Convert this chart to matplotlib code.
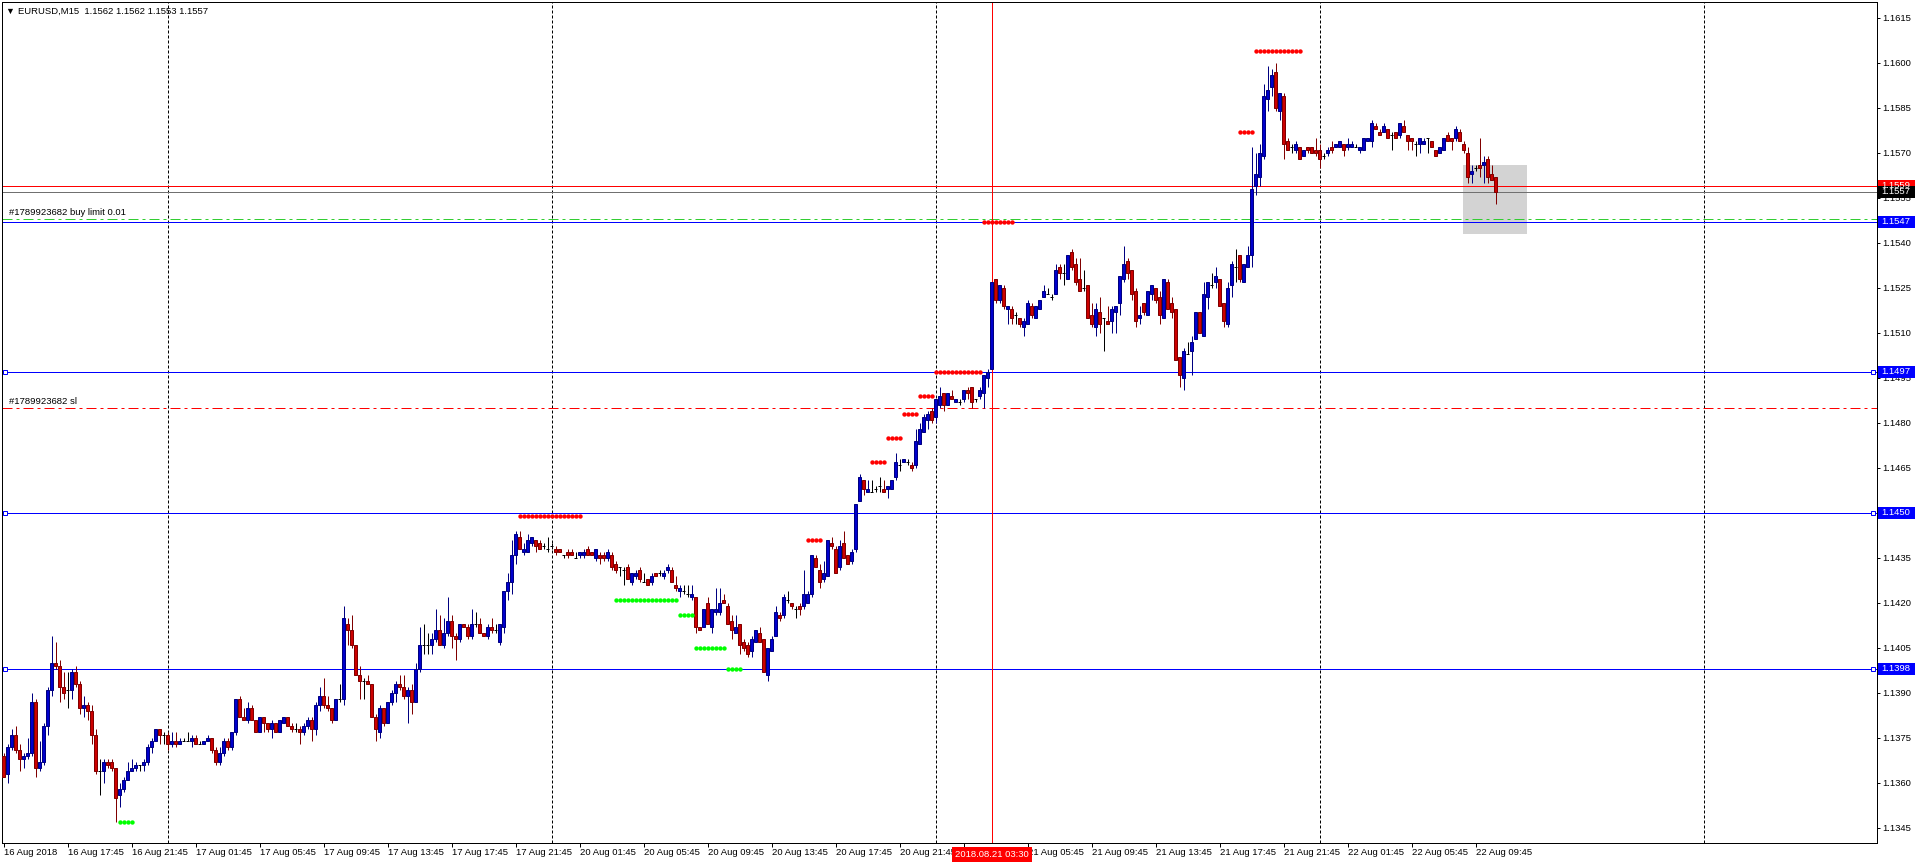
import numpy as np
import matplotlib
matplotlib.use("Agg")
import matplotlib.pyplot as plt
from matplotlib.patches import Rectangle
from matplotlib.transforms import blended_transform_factory

# EURUSD M15 bars, first bar = 16 Aug 2018 13:45
opens = [
    1.1369, 1.1363, 1.1372, 1.1376, 1.1371, 1.1368, 1.1369, 1.1370, 1.1387, 1.1365, 1.1367, 1.1379, 1.1391, 1.1400, 1.1399, 1.1392,
    1.1391, 1.1391, 1.1397, 1.1393, 1.1385, 1.1386, 1.1384, 1.1376, 1.1364, 1.1364, 1.1367, 1.1367, 1.1365, 1.1356, 1.1358, 1.1361,
    1.1364, 1.1365, 1.1366, 1.1366, 1.1367, 1.1372, 1.1374, 1.1378, 1.1376, 1.1376, 1.1373, 1.1374, 1.1373, 1.1374, 1.1374, 1.1374,
    1.1375, 1.1373, 1.1373, 1.1374, 1.1375, 1.1371, 1.1367, 1.1370, 1.1374, 1.1372, 1.1377, 1.1388, 1.1382, 1.1381, 1.1385, 1.1381,
    1.1377, 1.1382, 1.1380, 1.1378, 1.1380, 1.1377, 1.1380, 1.1382, 1.1379, 1.1378, 1.1378, 1.1377, 1.1379, 1.1381, 1.1378, 1.1386,
    1.1389, 1.1386, 1.1385, 1.1381, 1.1388, 1.1388, 1.1413, 1.1411, 1.1406, 1.1396, 1.1394, 1.1394, 1.1393, 1.1382, 1.1377, 1.1385,
    1.1380, 1.1387, 1.1390, 1.1393, 1.1392, 1.1389, 1.1391, 1.1387, 1.1398, 1.1406, 1.1406, 1.1406, 1.1408, 1.1411, 1.1406, 1.1410,
    1.1414, 1.1409, 1.1408, 1.1413, 1.1412, 1.1409, 1.1413, 1.1413, 1.1410, 1.1409, 1.1412, 1.1411, 1.1407, 1.1412, 1.1424, 1.1427,
    1.1436, 1.1442, 1.1437, 1.1437, 1.1440, 1.1441, 1.1440, 1.1439, 1.1438, 1.1439, 1.1438, 1.1438, 1.1436, 1.1437, 1.1437, 1.1435,
    1.1436, 1.1436, 1.1438, 1.1437, 1.1435, 1.1436, 1.1436, 1.1435, 1.1436, 1.1433, 1.1432, 1.1431, 1.1432, 1.1427, 1.1429, 1.1431,
    1.1427, 1.1428, 1.1427, 1.1430, 1.1430, 1.1429, 1.1431, 1.1431, 1.1426, 1.1424, 1.1424, 1.1423, 1.1422, 1.1422, 1.1412, 1.1412,
    1.1420, 1.1412, 1.1417, 1.1417, 1.1421, 1.1419, 1.1414, 1.1410, 1.1413, 1.1407, 1.1406, 1.1404, 1.1407, 1.1410, 1.1408, 1.1396,
    1.1404, 1.1409, 1.1416, 1.1416, 1.1421, 1.1420, 1.1418, 1.1419, 1.1419, 1.1420, 1.1423, 1.1435, 1.1431, 1.1428, 1.1429, 1.1440,
    1.1438, 1.1432, 1.1440, 1.1436, 1.1434, 1.1438, 1.1454, 1.1461, 1.1457, 1.1457, 1.1458, 1.1459, 1.1458, 1.1458, 1.1458, 1.1462,
    1.1466, 1.1467, 1.1467, 1.1466, 1.1466, 1.1473, 1.1477, 1.1481, 1.1484, 1.1482, 1.1486, 1.1490, 1.1486, 1.1489, 1.1487, 1.1487,
    1.1488, 1.1491, 1.1492, 1.1488, 1.1489, 1.1490, 1.1495, 1.1498, 1.1528, 1.1521, 1.1525, 1.1518, 1.1518, 1.1516, 1.1515, 1.1512,
    1.1513, 1.1519, 1.1515, 1.1518, 1.1522, 1.1523, 1.1522, 1.1523, 1.1532, 1.1530, 1.1528, 1.1537, 1.1533, 1.1528, 1.1525, 1.1526,
    1.1516, 1.1512, 1.1517, 1.1515, 1.1514, 1.1514, 1.1517, 1.1520, 1.1528, 1.1534, 1.1531, 1.1524, 1.1515, 1.1520, 1.1516, 1.1523,
    1.1525, 1.1522, 1.1515, 1.1527, 1.1520, 1.1518, 1.1502, 1.1495, 1.1503, 1.1504, 1.1508, 1.1517, 1.1509, 1.1522, 1.1526, 1.1527,
    1.1528, 1.1520, 1.1513, 1.1526, 1.1532, 1.1536, 1.1527, 1.1532, 1.1536, 1.1559, 1.1562, 1.1569, 1.1588, 1.1592, 1.1597, 1.1584,
    1.1589, 1.1574, 1.1572, 1.1571, 1.1572, 1.1569, 1.1572, 1.1572, 1.1571, 1.1571, 1.1569, 1.1570, 1.1572, 1.1572, 1.1572, 1.1573,
    1.1572, 1.1572, 1.1572, 1.1571, 1.1571, 1.1574, 1.1574, 1.1579, 1.1577, 1.1577, 1.1578, 1.1576, 1.1577, 1.1576, 1.1579, 1.1576,
    1.1575, 1.1573, 1.1573, 1.1573, 1.1575, 1.1574, 1.1571, 1.1570, 1.1571, 1.1576, 1.1575, 1.1575, 1.1577, 1.1573, 1.1570, 1.1563,
    1.1565, 1.1566, 1.1566, 1.1568, 1.1563, 1.1562,
]
highs = [
    1.1370, 1.1373, 1.1378, 1.1379, 1.1373, 1.1370, 1.1375, 1.1390, 1.1388, 1.1374, 1.1380, 1.1392, 1.1409, 1.1407, 1.1401, 1.1397,
    1.1397, 1.1398, 1.1399, 1.1394, 1.1389, 1.1387, 1.1386, 1.1378, 1.1368, 1.1368, 1.1368, 1.1368, 1.1365, 1.1360, 1.1362, 1.1367,
    1.1368, 1.1367, 1.1366, 1.1368, 1.1373, 1.1375, 1.1378, 1.1378, 1.1377, 1.1377, 1.1377, 1.1377, 1.1375, 1.1375, 1.1377, 1.1376,
    1.1376, 1.1374, 1.1374, 1.1376, 1.1375, 1.1372, 1.1372, 1.1375, 1.1375, 1.1377, 1.1388, 1.1389, 1.1385, 1.1387, 1.1386, 1.1381,
    1.1382, 1.1382, 1.1380, 1.1381, 1.1380, 1.1381, 1.1382, 1.1382, 1.1380, 1.1380, 1.1379, 1.1380, 1.1382, 1.1382, 1.1387, 1.1392,
    1.1395, 1.1389, 1.1385, 1.1388, 1.1393, 1.1419, 1.1415, 1.1416, 1.1406, 1.1399, 1.1395, 1.1396, 1.1393, 1.1383, 1.1386, 1.1385,
    1.1387, 1.1391, 1.1394, 1.1396, 1.1396, 1.1392, 1.1393, 1.1400, 1.1412, 1.1413, 1.1410, 1.1410, 1.1418, 1.1416, 1.1415, 1.1422,
    1.1416, 1.1410, 1.1413, 1.1413, 1.1413, 1.1418, 1.1417, 1.1415, 1.1410, 1.1413, 1.1415, 1.1413, 1.1413, 1.1424, 1.1430, 1.1441,
    1.1444, 1.1444, 1.1440, 1.1443, 1.1442, 1.1441, 1.1441, 1.1440, 1.1442, 1.1440, 1.1439, 1.1438, 1.1436, 1.1438, 1.1438, 1.1437,
    1.1437, 1.1438, 1.1439, 1.1437, 1.1438, 1.1437, 1.1437, 1.1438, 1.1437, 1.1434, 1.1432, 1.1432, 1.1433, 1.1430, 1.1431, 1.1432,
    1.1430, 1.1428, 1.1430, 1.1430, 1.1431, 1.1431, 1.1433, 1.1432, 1.1429, 1.1426, 1.1426, 1.1426, 1.1426, 1.1422, 1.1412, 1.1418,
    1.1422, 1.1418, 1.1425, 1.1425, 1.1423, 1.1420, 1.1416, 1.1416, 1.1413, 1.1408, 1.1407, 1.1409, 1.1411, 1.1412, 1.1408, 1.1405,
    1.1409, 1.1419, 1.1417, 1.1423, 1.1424, 1.1420, 1.1419, 1.1420, 1.1431, 1.1424, 1.1436, 1.1436, 1.1433, 1.1434, 1.1441, 1.1442,
    1.1439, 1.1441, 1.1444, 1.1436, 1.1438, 1.1453, 1.1463, 1.1461, 1.1461, 1.1461, 1.1459, 1.1462, 1.1461, 1.1459, 1.1461, 1.1470,
    1.1468, 1.1468, 1.1468, 1.1467, 1.1478, 1.1480, 1.1483, 1.1484, 1.1485, 1.1488, 1.1492, 1.1490, 1.1490, 1.1491, 1.1488, 1.1488,
    1.1491, 1.1492, 1.1492, 1.1488, 1.1492, 1.1496, 1.1498, 1.1527, 1.1528, 1.1526, 1.1526, 1.1519, 1.1519, 1.1517, 1.1515, 1.1515,
    1.1521, 1.1520, 1.1519, 1.1521, 1.1526, 1.1525, 1.1523, 1.1533, 1.1533, 1.1533, 1.1536, 1.1538, 1.1535, 1.1535, 1.1531, 1.1526,
    1.1520, 1.1520, 1.1522, 1.1515, 1.1519, 1.1519, 1.1519, 1.1529, 1.1539, 1.1535, 1.1531, 1.1525, 1.1519, 1.1520, 1.1524, 1.1526,
    1.1525, 1.1524, 1.1528, 1.1528, 1.1522, 1.1518, 1.1502, 1.1505, 1.1507, 1.1509, 1.1517, 1.1517, 1.1527, 1.1527, 1.1530, 1.1532,
    1.1528, 1.1520, 1.1527, 1.1534, 1.1538, 1.1536, 1.1533, 1.1539, 1.1572, 1.1570, 1.1573, 1.1593, 1.1599, 1.1598, 1.1600, 1.1590,
    1.1590, 1.1575, 1.1573, 1.1574, 1.1572, 1.1571, 1.1572, 1.1572, 1.1575, 1.1573, 1.1570, 1.1572, 1.1574, 1.1573, 1.1574, 1.1573,
    1.1575, 1.1574, 1.1573, 1.1572, 1.1575, 1.1575, 1.1581, 1.1580, 1.1578, 1.1580, 1.1578, 1.1577, 1.1577, 1.1580, 1.1581, 1.1576,
    1.1575, 1.1574, 1.1575, 1.1575, 1.1575, 1.1574, 1.1571, 1.1572, 1.1575, 1.1577, 1.1575, 1.1579, 1.1578, 1.1574, 1.1572, 1.1566,
    1.1566, 1.1575, 1.1569, 1.1569, 1.1566, 1.1562,
]
lows = [
    1.1362, 1.1360, 1.1371, 1.1370, 1.1364, 1.1365, 1.1368, 1.1369, 1.1362, 1.1364, 1.1366, 1.1376, 1.1389, 1.1398, 1.1387, 1.1388,
    1.1385, 1.1388, 1.1392, 1.1383, 1.1382, 1.1381, 1.1373, 1.1363, 1.1356, 1.1360, 1.1365, 1.1364, 1.1347, 1.1352, 1.1357, 1.1361,
    1.1364, 1.1364, 1.1364, 1.1364, 1.1366, 1.1370, 1.1374, 1.1373, 1.1373, 1.1371, 1.1372, 1.1372, 1.1373, 1.1374, 1.1374, 1.1372,
    1.1373, 1.1373, 1.1373, 1.1374, 1.1370, 1.1366, 1.1366, 1.1369, 1.1371, 1.1371, 1.1376, 1.1382, 1.1381, 1.1380, 1.1381, 1.1377,
    1.1377, 1.1377, 1.1377, 1.1375, 1.1377, 1.1377, 1.1380, 1.1379, 1.1377, 1.1377, 1.1373, 1.1376, 1.1378, 1.1374, 1.1376, 1.1384,
    1.1385, 1.1384, 1.1380, 1.1381, 1.1387, 1.1386, 1.1406, 1.1405, 1.1396, 1.1388, 1.1388, 1.1393, 1.1382, 1.1374, 1.1375, 1.1379,
    1.1380, 1.1386, 1.1387, 1.1391, 1.1388, 1.1380, 1.1383, 1.1387, 1.1397, 1.1403, 1.1403, 1.1403, 1.1407, 1.1406, 1.1405, 1.1409,
    1.1405, 1.1401, 1.1407, 1.1412, 1.1408, 1.1408, 1.1412, 1.1410, 1.1409, 1.1408, 1.1410, 1.1410, 1.1406, 1.1410, 1.1421, 1.1423,
    1.1433, 1.1438, 1.1436, 1.1437, 1.1439, 1.1437, 1.1438, 1.1438, 1.1437, 1.1438, 1.1436, 1.1437, 1.1435, 1.1435, 1.1436, 1.1435,
    1.1435, 1.1435, 1.1436, 1.1436, 1.1434, 1.1433, 1.1434, 1.1434, 1.1431, 1.1430, 1.1429, 1.1426, 1.1428, 1.1426, 1.1428, 1.1427,
    1.1427, 1.1426, 1.1426, 1.1429, 1.1429, 1.1428, 1.1430, 1.1427, 1.1424, 1.1422, 1.1423, 1.1422, 1.1421, 1.1410, 1.1411, 1.1412,
    1.1413, 1.1410, 1.1416, 1.1416, 1.1420, 1.1413, 1.1408, 1.1410, 1.1403, 1.1404, 1.1402, 1.1402, 1.1407, 1.1407, 1.1397, 1.1394,
    1.1404, 1.1409, 1.1414, 1.1415, 1.1420, 1.1418, 1.1415, 1.1416, 1.1418, 1.1420, 1.1422, 1.1432, 1.1425, 1.1427, 1.1429, 1.1438,
    1.1430, 1.1431, 1.1435, 1.1433, 1.1433, 1.1437, 1.1454, 1.1456, 1.1457, 1.1457, 1.1457, 1.1457, 1.1457, 1.1455, 1.1458, 1.1461,
    1.1464, 1.1467, 1.1466, 1.1464, 1.1465, 1.1473, 1.1477, 1.1478, 1.1480, 1.1480, 1.1485, 1.1484, 1.1486, 1.1488, 1.1487, 1.1486,
    1.1487, 1.1488, 1.1485, 1.1487, 1.1488, 1.1485, 1.1492, 1.1498, 1.1520, 1.1520, 1.1518, 1.1513, 1.1513, 1.1513, 1.1512, 1.1509,
    1.1513, 1.1515, 1.1515, 1.1518, 1.1522, 1.1523, 1.1521, 1.1523, 1.1528, 1.1526, 1.1528, 1.1531, 1.1526, 1.1524, 1.1524, 1.1515,
    1.1512, 1.1509, 1.1510, 1.1504, 1.1513, 1.1510, 1.1510, 1.1516, 1.1527, 1.1528, 1.1521, 1.1512, 1.1513, 1.1516, 1.1516, 1.1521,
    1.1520, 1.1513, 1.1515, 1.1518, 1.1515, 1.1501, 1.1492, 1.1491, 1.1503, 1.1496, 1.1508, 1.1510, 1.1509, 1.1518, 1.1525, 1.1525,
    1.1519, 1.1512, 1.1512, 1.1522, 1.1527, 1.1527, 1.1527, 1.1532, 1.1532, 1.1556, 1.1559, 1.1568, 1.1584, 1.1589, 1.1584, 1.1581,
    1.1568, 1.1571, 1.1570, 1.1570, 1.1568, 1.1569, 1.1570, 1.1570, 1.1569, 1.1565, 1.1568, 1.1569, 1.1570, 1.1572, 1.1572, 1.1569,
    1.1571, 1.1572, 1.1572, 1.1570, 1.1571, 1.1574, 1.1572, 1.1578, 1.1576, 1.1577, 1.1575, 1.1571, 1.1575, 1.1575, 1.1577, 1.1571,
    1.1571, 1.1569, 1.1570, 1.1573, 1.1570, 1.1572, 1.1569, 1.1570, 1.1571, 1.1574, 1.1571, 1.1574, 1.1574, 1.1570, 1.1560, 1.1560,
    1.1564, 1.1562, 1.1560, 1.1560, 1.1561, 1.1553,
]
closes = [
    1.1362, 1.1372, 1.1376, 1.1371, 1.1368, 1.1369, 1.1370, 1.1387, 1.1365, 1.1367, 1.1379, 1.1391, 1.1400, 1.1399, 1.1392, 1.1390,
    1.1391, 1.1397, 1.1393, 1.1385, 1.1386, 1.1384, 1.1376, 1.1364, 1.1364, 1.1367, 1.1366, 1.1365, 1.1355, 1.1358, 1.1361, 1.1364,
    1.1365, 1.1366, 1.1366, 1.1367, 1.1372, 1.1374, 1.1378, 1.1376, 1.1376, 1.1373, 1.1374, 1.1373, 1.1374, 1.1374, 1.1374, 1.1375,
    1.1373, 1.1373, 1.1374, 1.1375, 1.1371, 1.1367, 1.1370, 1.1374, 1.1372, 1.1377, 1.1388, 1.1382, 1.1381, 1.1385, 1.1381, 1.1377,
    1.1382, 1.1380, 1.1378, 1.1380, 1.1377, 1.1381, 1.1382, 1.1379, 1.1378, 1.1378, 1.1377, 1.1379, 1.1381, 1.1378, 1.1386, 1.1389,
    1.1386, 1.1385, 1.1381, 1.1388, 1.1388, 1.1415, 1.1411, 1.1406, 1.1396, 1.1394, 1.1394, 1.1393, 1.1382, 1.1378, 1.1385, 1.1380,
    1.1387, 1.1390, 1.1393, 1.1392, 1.1389, 1.1391, 1.1387, 1.1398, 1.1406, 1.1406, 1.1406, 1.1408, 1.1411, 1.1406, 1.1410, 1.1414,
    1.1409, 1.1408, 1.1413, 1.1412, 1.1409, 1.1413, 1.1413, 1.1410, 1.1409, 1.1412, 1.1411, 1.1411, 1.1413, 1.1424, 1.1427, 1.1436,
    1.1443, 1.1438, 1.1438, 1.1441, 1.1442, 1.1439, 1.1438, 1.1439, 1.1438, 1.1439, 1.1437, 1.1437, 1.1436, 1.1436, 1.1436, 1.1435,
    1.1437, 1.1437, 1.1436, 1.1436, 1.1438, 1.1435, 1.1435, 1.1437, 1.1432, 1.1431, 1.1432, 1.1431, 1.1428, 1.1430, 1.1430, 1.1428,
    1.1427, 1.1426, 1.1429, 1.1429, 1.1430, 1.1430, 1.1432, 1.1427, 1.1425, 1.1425, 1.1424, 1.1423, 1.1423, 1.1412, 1.1411, 1.1418,
    1.1413, 1.1418, 1.1418, 1.1420, 1.1420, 1.1413, 1.1411, 1.1412, 1.1406, 1.1405, 1.1403, 1.1408, 1.1411, 1.1407, 1.1397, 1.1405,
    1.1408, 1.1417, 1.1415, 1.1422, 1.1421, 1.1419, 1.1418, 1.1418, 1.1423, 1.1423, 1.1436, 1.1432, 1.1427, 1.1430, 1.1441, 1.1439,
    1.1430, 1.1439, 1.1435, 1.1433, 1.1437, 1.1453, 1.1462, 1.1458, 1.1458, 1.1457, 1.1458, 1.1459, 1.1457, 1.1459, 1.1461, 1.1467,
    1.1466, 1.1468, 1.1467, 1.1465, 1.1474, 1.1478, 1.1482, 1.1483, 1.1481, 1.1488, 1.1489, 1.1486, 1.1490, 1.1488, 1.1488, 1.1487,
    1.1491, 1.1490, 1.1487, 1.1488, 1.1491, 1.1496, 1.1497, 1.1527, 1.1521, 1.1526, 1.1519, 1.1519, 1.1515, 1.1516, 1.1513, 1.1514,
    1.1520, 1.1516, 1.1519, 1.1521, 1.1524, 1.1523, 1.1522, 1.1531, 1.1530, 1.1530, 1.1536, 1.1532, 1.1527, 1.1524, 1.1525, 1.1515,
    1.1513, 1.1518, 1.1513, 1.1515, 1.1513, 1.1518, 1.1519, 1.1529, 1.1533, 1.1530, 1.1523, 1.1514, 1.1516, 1.1517, 1.1524, 1.1526,
    1.1521, 1.1516, 1.1528, 1.1518, 1.1517, 1.1501, 1.1496, 1.1504, 1.1503, 1.1507, 1.1517, 1.1510, 1.1523, 1.1527, 1.1526, 1.1529,
    1.1519, 1.1514, 1.1525, 1.1533, 1.1532, 1.1528, 1.1533, 1.1536, 1.1558, 1.1563, 1.1570, 1.1589, 1.1591, 1.1596, 1.1585, 1.1590,
    1.1573, 1.1571, 1.1572, 1.1573, 1.1568, 1.1571, 1.1571, 1.1570, 1.1570, 1.1568, 1.1569, 1.1571, 1.1571, 1.1573, 1.1574, 1.1571,
    1.1573, 1.1573, 1.1572, 1.1572, 1.1575, 1.1575, 1.1580, 1.1578, 1.1576, 1.1579, 1.1575, 1.1576, 1.1575, 1.1580, 1.1577, 1.1574,
    1.1574, 1.1573, 1.1575, 1.1574, 1.1575, 1.1572, 1.1569, 1.1572, 1.1575, 1.1574, 1.1574, 1.1578, 1.1574, 1.1571, 1.1562, 1.1564,
    1.1565, 1.1565, 1.1567, 1.1562, 1.1561, 1.1557,
]

symbol = "EURUSD,M15"
# one label every 16 bars; the 21 Aug 01:45 slot is covered by the vertical line's time tag
time_labels = [
    "16 Aug 2018", "16 Aug 17:45", "16 Aug 21:45", "17 Aug 01:45", "17 Aug 05:45", "17 Aug 09:45",
    "17 Aug 13:45", "17 Aug 17:45", "17 Aug 21:45", "20 Aug 01:45", "20 Aug 05:45", "20 Aug 09:45",
    "20 Aug 13:45", "20 Aug 17:45", "20 Aug 21:45", "", "21 Aug 05:45", "21 Aug 09:45",
    "21 Aug 13:45", "21 Aug 17:45", "21 Aug 21:45", "22 Aug 01:45", "22 Aug 05:45", "22 Aug 09:45",
]
bars_per_label = 16
day_breaks = [41, 137, 233, 329, 425]  # bar index of 00:00 each day
price_ticks = [1.1345, 1.1360, 1.1375, 1.1390, 1.1405, 1.1420, 1.1435, 1.1450, 1.1465, 1.1480,
               1.1495, 1.1510, 1.1525, 1.1540, 1.1555, 1.1570, 1.1585, 1.1600, 1.1615]

# indicator dots (first bar, last bar, price)
res_first = [129, 201, 217, 221, 225, 229, 233, 245, 309, 313]
res_last = [144, 204, 220, 224, 228, 232, 244, 252, 312, 324]
res_price = [1.1449, 1.1441, 1.1467, 1.1475, 1.1483, 1.1489, 1.1497, 1.1547, 1.1577, 1.1604]
sup_first = [29, 153, 169, 173, 181]
sup_last = [32, 168, 172, 180, 184]
sup_price = [1.1347, 1.1421, 1.1416, 1.1405, 1.1398]

# chart objects
level_prices = [1.1547, 1.1497, 1.1450, 1.1398]
level_anchored = [False, True, True, True]
alert_price = 1.1559
bid_price = 1.1557
order_price = 1.1548
order_label = "#1789923682 buy limit 0.01"
sl_price = 1.1485
sl_label = "#1789923682 sl"
vline_bar = 247
vline_label = "2018.08.21 03:30"
box_bars = (364.9, 380.9)
box_prices = (1.1543, 1.1566)

plt.rcParams['font.family'] = ['Liberation Sans', 'DejaVu Sans']
FS = 6.8
PX = 0.72  # one pixel in points at dpi 100

W, H = 1916, 864
fig = plt.figure(figsize=(W / 100, H / 100), dpi=100)
left, right, top, bottom = 2, 1877, 2, 843
ax = fig.add_axes([left / W, 1 - bottom / H, (right - left) / W, (bottom - top) / H])
ax.set_xlim(-0.375, 468.375)
ax.set_ylim(1.1340, 1.16203)
axw = right - left
axh = bottom - top
ppu = axh / (1.16203 - 1.1340)  # pixels per price unit

o = np.array(opens)
h = np.array(highs)
l = np.array(lows)
c = np.array(closes)
idx = np.arange(len(o))
up = c > o
dn = c < o
flat = c == o

# candles
wick_col = np.where(up, '#000080', np.where(dn, '#800000', '#000000'))
ax.vlines(idx, l, h, colors=wick_col, lw=PX, zorder=3)
ax.bar(idx[up], (c - o)[up], bottom=o[up], width=0.55, color='#0000CD',
       edgecolor='#000080', lw=PX, zorder=4)
ax.bar(idx[dn], (o - c)[dn], bottom=c[dn], width=0.55, color='#CC0000',
       edgecolor='#800000', lw=PX, zorder=4)
ax.hlines(o[flat], idx[flat] - 0.4, idx[flat] + 0.4, colors='black', lw=PX, zorder=4)

# dots
for f, la, p in zip(res_first, res_last, res_price):
    xs = np.arange(f, la + 1)
    ax.scatter(xs, np.full(len(xs), p), s=10, color='#FF0000', linewidths=0, zorder=5)
for f, la, p in zip(sup_first, sup_last, sup_price):
    xs = np.arange(f, la + 1)
    ax.scatter(xs, np.full(len(xs), p), s=10, color='#00FF00', linewidths=0, zorder=5)

# grid (day separators)
for b in day_breaks:
    ax.axvline(b, color='black', lw=PX, ls=(0, (3, 2)), zorder=1)

# objects
ax.add_patch(Rectangle((box_bars[0], box_prices[0]), box_bars[1] - box_bars[0],
                       box_prices[1] - box_prices[0], facecolor='#D3D3D3',
                       edgecolor='none', zorder=0.5))
for p in level_prices:
    ax.axhline(p, color='#0000FF', lw=PX, zorder=2)
ax.axhline(alert_price, color='#FF0000', lw=PX, zorder=2)
ax.axhline(bid_price, color='#707070', lw=PX, zorder=2)
ax.axhline(order_price, color='#32CD32', lw=PX, ls=(0, (10, 4, 3, 4)), zorder=2)
ax.axhline(sl_price, color='#FF0000', lw=PX, ls=(0, (10, 4, 3, 4)), zorder=2)
ax.axvline(vline_bar, color='#FF0000', lw=PX, zorder=2)

trans_y = blended_transform_factory(ax.transAxes, ax.transData)
trans_x = blended_transform_factory(ax.transData, ax.transAxes)

for p, anch in zip(level_prices, level_anchored):
    if anch:
        ax.plot([3.3 / axw, (axw - 4) / axw], [p, p], ls='none', marker='s', ms=3.2,
                mfc='white', mec='#0000FF', mew=PX, transform=trans_y, zorder=6, clip_on=False)

ax.text(7 / axw, order_price + 1.5 / ppu, order_label, transform=trans_y, fontsize=FS,
        ha='left', va='bottom', zorder=6)
ax.text(7 / axw, sl_price + 1.5 / ppu, sl_label, transform=trans_y, fontsize=FS,
        ha='left', va='bottom', zorder=6)

# price axis
ax.yaxis.tick_right()
ax.set_yticks(price_ticks)
ax.set_yticklabels([f"{p:.4f}" for p in price_ticks])
ax.tick_params(axis='y', length=3 * PX, width=PX, pad=1.5, labelsize=FS, colors='black')

def price_tag(p, face):
    ax.add_patch(Rectangle((1 + 1 / axw, p - 6 / ppu), 37 / axw, 12 / ppu, transform=trans_y,
                           facecolor=face, edgecolor='none', clip_on=False, zorder=10))
    ax.text(1 + 4.5 / axw, p, f"{p:.4f}", transform=trans_y, color='white', fontsize=FS,
            ha='left', va='center', zorder=11, clip_on=False)

for p in level_prices:
    price_tag(p, '#0000FF')
price_tag(alert_price, '#FF0000')
price_tag(bid_price, '#000000')

# time axis
label_bars = [i * bars_per_label for i in range(len(time_labels))]
ax.set_xticks(label_bars)
ax.set_xticklabels(time_labels, ha='left')
ax.tick_params(axis='x', length=4 * PX, width=PX, pad=1.0, labelsize=FS, colors='black')

ax.add_patch(Rectangle((vline_bar - 10, -19 / axh), 20, 15 / axh, transform=trans_x,
                       facecolor='#FF0000', edgecolor='none', clip_on=False, zorder=10))
ax.text(vline_bar, -11.5 / axh, vline_label, transform=trans_x, color='white', fontsize=FS,
        ha='center', va='center', zorder=11, clip_on=False)

for s in ax.spines.values():
    s.set_linewidth(PX)
    s.set_color('black')

# header
fig.text(5 / W, 1 - 11 / H, "\u25bc", fontsize=6.5, ha='left', va='center')
fig.text(18 / W, 1 - 11 / H,
         f"{symbol}  {opens[-1]:.4f} {highs[-1]:.4f} {lows[-1]:.4f} {closes[-1]:.4f}",
         fontsize=FS, ha='left', va='center')

fig.savefig("out.png", dpi=100, facecolor='white')
